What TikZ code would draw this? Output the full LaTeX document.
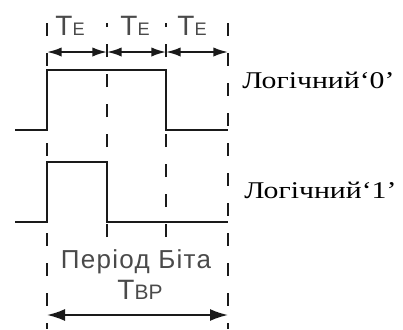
\documentclass[tikz,border=0pt]{standalone}
\usepackage{fontspec}
\usetikzlibrary{arrows.meta}
\newfontfamily\labelfont{Liberation Serif}[FakeStretch=1.24]
\newfontfamily\timefont{Liberation Sans}
\newfontfamily\periodfont{Liberation Sans}[LetterSpace=5]
\definecolor{textgray}{HTML}{4A4A4A}
\definecolor{linegray}{HTML}{1A1A1A}

\begin{document}
\begin{tikzpicture}[x=0.75pt, y=-0.75pt,
    signal/.style={line width=1.9pt, linegray, line join=miter},
    dashline/.style={line width=1.9pt, linegray, dash pattern=on 9.75pt off 12.75pt},
    dimarrow/.style={line width=1.4pt, linegray, {Latex[length=11pt,width=7pt]}-{Latex[length=11pt,width=7pt]}},
    bigarrow/.style={line width=1.4pt, linegray, {Latex[length=13.5pt,width=9pt]}-{Latex[length=13.5pt,width=9pt]}},
    tlabel/.style={textgray, inner sep=0pt, anchor=base},
    loglabel/.style={black, inner sep=0pt, anchor=base west, font=\labelfont\fontsize{18pt}{18pt}\selectfont}]

    \useasboundingbox (0,0) rectangle (403,329);

    % --- linee tratteggiate verticali (confini dei tempi) ---
    \foreach \x [count=\i] in {47,107,166,228}
        \coordinate (top\i) at (\x,23);
    \coordinate (bot1) at (47,329);
    \coordinate (bot2) at (107,237);
    \coordinate (bot3) at (166,237);
    \coordinate (bot4) at (228,329);
    \draw[dashline] (top1) -- (bot1);
    \draw[dashline] (top4) -- (bot4);
    % quelle interne finiscono sopra il testo
    \draw[dashline] (bot2) -- (top2);
    \draw[dashline] (bot3) -- (top3);

    % --- frecce TE ---
    \foreach \a/\b in {1/2,2/3,3/4}
        \draw[dimarrow] (top\a |- 0,52) -- (top\b |- 0,52);

    \node[tlabel] (te1) at (70,35) {\timefont\fontsize{21pt}{21pt}\selectfont T\fontsize{13.6pt}{13.6pt}\selectfont E};
    \node[tlabel] (te2) at (135,35) {\timefont\fontsize{21pt}{21pt}\selectfont T\fontsize{13.6pt}{13.6pt}\selectfont E};
    \node[tlabel] (te3) at (192,35) {\timefont\fontsize{21pt}{21pt}\selectfont T\fontsize{13.6pt}{13.6pt}\selectfont E};

    % Segnale logico 0
    \draw[signal] (15,130) -- (47,130) -- (47,70) -- (166,70) -- (166,130) -- (228,130);
    \node[loglabel] (zero) at (242,88) {Логічний‘0’};

    % Segnale logico 1
    \draw[signal] (15,222) -- (47,222) -- (47,162) -- (107,162) -- (107,222) -- (228,222);
    \node[loglabel] (one) at (244,198) {Логічний‘1’};

    % --- periodo di bit ---
    \node[tlabel] (period) at (136,268) {\periodfont\fontsize{19.5pt}{19.5pt}\selectfont Період Біта};
    \node[tlabel] (tbp) at (140,299) {\timefont\fontsize{21pt}{21pt}\selectfont T\fontsize{15.7pt}{15.7pt}\selectfont BP};
    \draw[bigarrow] (bot1 |- 0,315) -- (bot4 |- 0,315);

\end{tikzpicture}
\end{document}
